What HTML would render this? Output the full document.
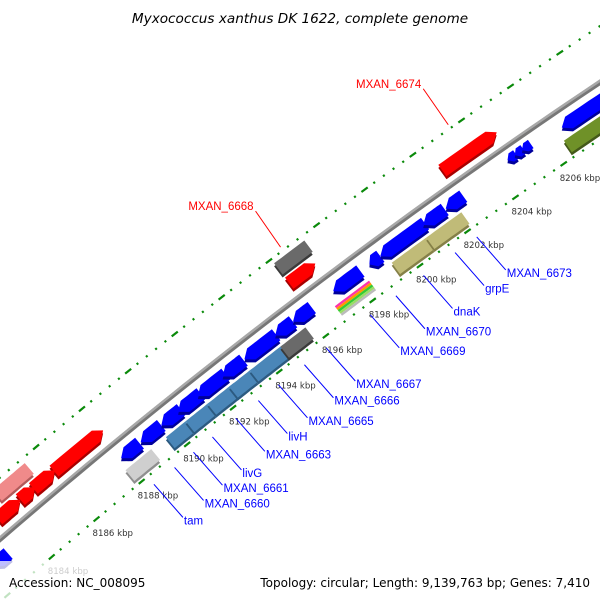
<!DOCTYPE html>
<html><head><meta charset="utf-8"><style>
html,body{margin:0;padding:0;background:#fff;overflow:hidden;width:600px;height:600px;}
svg{display:block;font-family:"DejaVu Sans","Liberation Sans",sans-serif;}
</style></head><body>
<svg id="chart" width="600" height="600" viewBox="0 0 600 600">
<rect x="0" y="0" width="600" height="600" fill="#fff"/>
<text x="300" y="23" text-anchor="middle" font-size="13.6" font-style="italic" fill="#000">Myxococcus xanthus DK 1622, complete genome</text>
<g id="ticks"></g>
<g id="backbone"></g>
<g id="genes"></g>
<g id="labels"></g>
<rect x="0" y="561" width="150" height="39" fill="#fff" opacity="0.75"/>
<rect x="255" y="563" width="345" height="37" fill="#fff" opacity="0.75"/>
<text x="9" y="587" font-size="12" fill="#000">Accession: NC_008095</text>
<text x="590" y="587" font-size="12" text-anchor="end" fill="#000">Topology: circular; Length: 9,139,763 bp; Genes: 7,410</text>
</svg>
<script>
// ---- data ----
const tickKbp = [8180,8182,8184,8186,8188,8190,8192,8194,8196,8198,8200,8202,8204,8206,8208,8210];
const geneStart = [7987.96,8188.82,8189.72,8190.45,8191.31,8192.38,8193.32,8194.64,8195.40,8197.11,8198.64,8199.1,8200.9,8201.84,8204.5,8204.8,8205.1,8206.64,8182.3,
  8189.59,8190.45,8191.40,8192.34,8193.23,8187.82,8194.55,8199.28,8200.73,8206.45,
  8202.5,8196.09,8185.94,8185.03,8184.45,8183.45,8196.09,8184.36,8183.95];
geneStart[0] = 8187.96;
const geneEnd = [8188.77,8189.72,8190.58,8191.44,8192.51,8193.28,8194.68,8195.40,8196.20,8198.26,8199.1,8200.98,8201.8,8202.57,8204.85,8205.15,8205.46,8209.5,8182.95,
  8190.45,8191.40,8192.55,8193.23,8194.68,8188.95,8195.62,8200.73,8202.2,8209.5,
  8204.74,8197.19,8188.09,8185.98,8185.1,8184.45,8197.36,8185.36,8184.55];
const geneStrand = [-1,-1,-1,-1,-1,-1,-1,-1,-1,-1,-1,-1,-1,-1,-1,-1,-1,-1,-1,
  0,0,0,0,0,0,0,0,0,0,
  1,1,1,1,1,1,0,0,0];
const geneTrack = ['in','in','in','in','in','in','in','in','in','in','in','in','in','in','tri','tri','tri','in','in',
  'in2','in2','in2','in2','in2','in2','in2','in2','in2','in2',
  'out','out','out','out','out','out','out2','out2','out2'];
const geneColor = ['blue','blue','blue','blue','blue','blue','blue','blue','blue','blue','blue','blue','blue','blue','blue','blue','blue','blue','blue',
  'steel','steel','steel','steel','steel','lgray','dgray','khaki','khaki','olive',
  'red','red','red','red','red','red','dgray','pink','pink'];
const stripeStart = [8196.85];
const stripeEnd = [8198.3];
const labelText = ['tam','MXAN_6660','MXAN_6661','livG','MXAN_6663','livH','MXAN_6665','MXAN_6666','MXAN_6667','MXAN_6669','MXAN_6670','dnaK','grpE','MXAN_6673'];
const labelKbp = [8188.26,8189.17,8190.0,8190.83,8191.85,8192.83,8193.70,8194.82,8195.76,8197.64,8198.73,8199.9,8201.23,8202.14];
const outLabelText = ['MXAN_6674','MXAN_6668'];
const outLabelKbp = [8203.55,8196.59];

// ---- geometry ----
const CX=4014, CY=5187, R=6142, DEG0=233.86, DPK=0.276;
function P(k,d){const a=(DEG0+DPK*(k-8200))*Math.PI/180, r=R+d; return [CX+r*Math.cos(a), CY+r*Math.sin(a)];}
const NS='http://www.w3.org/2000/svg';
function mk(tag,parent){const e=document.createElementNS(NS,tag);parent.appendChild(e);return e;}
const trackD={in:-17,tri:-13,in2:-36,out:16,out2:34};
const trackH={in:7,tri:5,in2:7,out:7,out2:7};
const pal={blue:['#0000ff','#00009a'],steel:['#4a86b8','#2c5a80'],lgray:['#cfcfcf','#8f8f8f'],dgray:['#6a6a6a','#3a3a3a'],
  khaki:['#c0bb78','#858048'],olive:['#6f9128','#44591a'],red:['#ff0000','#a80000'],pink:['#f08a8a','#b05a5a']};

// ticks
const tg=document.getElementById('ticks');
[-48,46].forEach(function(d){
  for(let i=0;i<=75;i++){
    const k=8180+i*0.4;
    const major=Math.abs(k/2-Math.round(k/2))<1e-6;
    const w=major?0.13:0.035;
    const a=P(k-w,d), b=P(k+w,d);
    const l=mk('line',tg);
    
    
    l.setAttribute('x1',a[0]);l.setAttribute('y1',a[1]);l.setAttribute('x2',b[0]);l.setAttribute('y2',b[1]);
    l.setAttribute('stroke','#0a8a0a');l.setAttribute('stroke-width','2.2');
  }
});
tickKbp.forEach(function(k){
  const p=P(k,-48);
  const t=mk('text',tg);
  
  
  t.setAttribute('x',p[0]-4);t.setAttribute('y',p[1]+17);
  t.setAttribute('font-size','8.6');t.setAttribute('fill','#333');
  t.textContent=k+' kbp';
});

// backbone
const bg=document.getElementById('backbone');
function arcPath(k1,k2,d){let s='';for(let i=0;i<=60;i++){const p=P(k1+(k2-k1)*i/60,d);s+=(i?'L':'M')+p[0].toFixed(1)+' '+p[1].toFixed(1);}return s;}
const b1=mk('path',bg);


b1.setAttribute('d',arcPath(8180,8212,-1));b1.setAttribute('stroke','#777');b1.setAttribute('stroke-width','5');b1.setAttribute('fill','none');
const b2=mk('path',bg);


b2.setAttribute('d',arcPath(8180,8212,0.5));b2.setAttribute('stroke','#a8a8a8');b2.setAttribute('stroke-width','2.5');b2.setAttribute('fill','none');

// genes
const gg=document.getElementById('genes');
function genePts(k1,k2,dc,h,strand){
  const pts=[];const n=8;
  let head=Math.min(0.3,(k2-k1)*0.45);
  if(strand===0)head=0;
  const a1=strand===-1?k1+head:k1, a2=strand===1?k2-head:k2;
  if(strand===-1)pts.push(P(k1,dc));
  for(let i=0;i<=n;i++)pts.push(P(a1+(a2-a1)*i/n,dc+h));
  if(strand===1)pts.push(P(k2,dc));
  for(let i=n;i>=0;i--)pts.push(P(a1+(a2-a1)*i/n,dc-h));
  return pts.map(function(p){return p[0].toFixed(1)+','+p[1].toFixed(1);}).join(' ');
}
for(let i=0;i<geneStart.length;i++){
  const tr=geneTrack[i], c=pal[geneColor[i]];
  const pts=genePts(geneStart[i],geneEnd[i],trackD[tr],trackH[tr],geneStrand[i]);
  const s=mk('polygon',gg);
  
  
  s.setAttribute('points',pts);s.setAttribute('fill',c[1]);s.setAttribute('transform','translate(0,3)');
  const f=mk('polygon',gg);
  
  
  f.setAttribute('points',pts);f.setAttribute('fill',c[0]);
}
// multicolour stripes
const stripeCols=['#ff33aa','#ff9900','#33cc33','#99dd66','#bbbbbb'];
for(let j=0;j<stripeStart.length;j++){
  stripeCols.forEach(function(col,m){
    const pts=genePts(stripeStart[j],stripeEnd[j],-31-m*2.4,1.2,0);
    const s=mk('polygon',gg);
    
    
    s.setAttribute('points',pts);s.setAttribute('fill',col);
  });
}

// labels
const lg=document.getElementById('labels');
labelText.forEach(function(txt,i){
  const a=P(labelKbp[i],-58), b=[a[0]+29,a[1]+33];
  const l=mk('line',lg);
  
  
  l.setAttribute('x1',a[0]);l.setAttribute('y1',a[1]);l.setAttribute('x2',b[0]);l.setAttribute('y2',b[1]);
  l.setAttribute('stroke','#0000ff');l.setAttribute('stroke-width','1');
  const t=mk('text',lg);
  
  
  t.setAttribute('x',b[0]+1);t.setAttribute('y',b[1]+7);t.setAttribute('font-size','11.5');t.setAttribute('fill','#0000ff');
  t.setAttribute('font-family','"Liberation Sans", sans-serif');
  t.textContent=txt;
});
outLabelText.forEach(function(txt,i){
  const a=P(outLabelKbp[i],50), b=[a[0]-25,a[1]-36];
  const l=mk('line',lg);
  
  
  l.setAttribute('x1',a[0]);l.setAttribute('y1',a[1]);l.setAttribute('x2',b[0]);l.setAttribute('y2',b[1]);
  l.setAttribute('stroke','#ff0000');l.setAttribute('stroke-width','1');
  const t=mk('text',lg);
  
  
  t.setAttribute('x',b[0]-2);t.setAttribute('y',b[1]-1);t.setAttribute('text-anchor','end');t.setAttribute('font-size','11.5');t.setAttribute('fill','#ff0000');
  t.setAttribute('font-family','"Liberation Sans", sans-serif');
  t.textContent=txt;
});
</script>
</body></html>
